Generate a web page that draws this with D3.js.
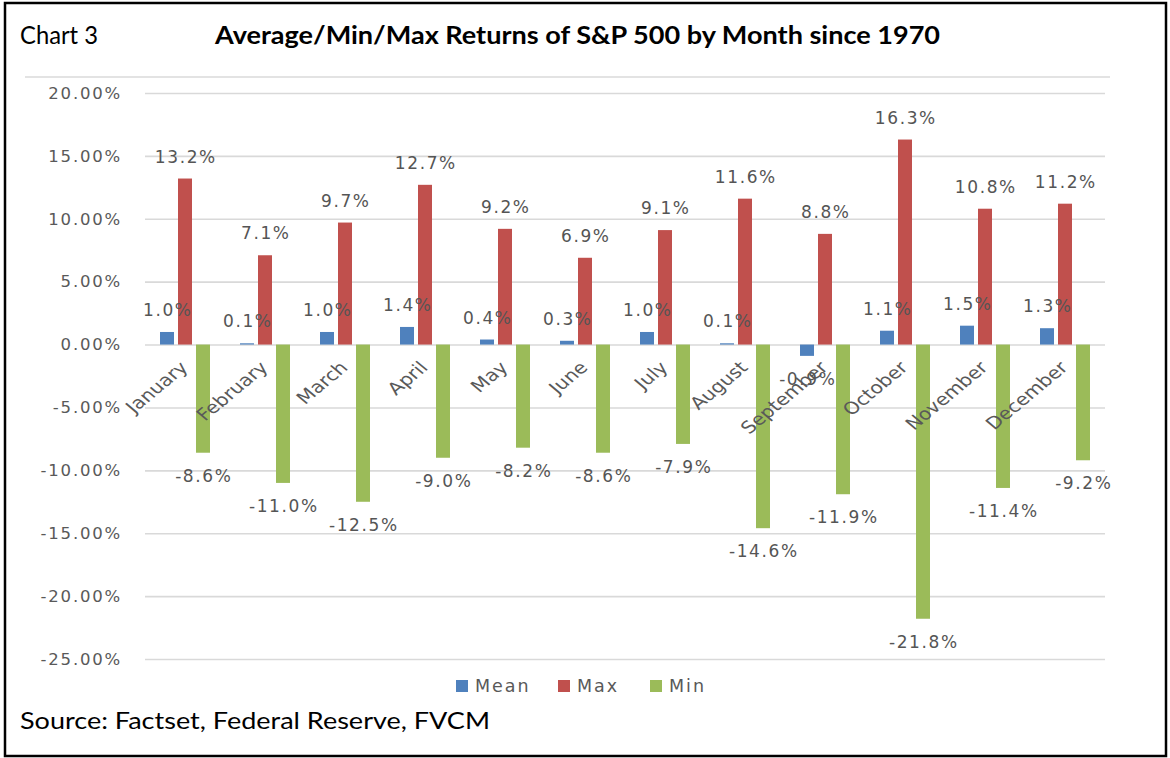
<!DOCTYPE html>
<html>
<head>
<meta charset="utf-8">
<script src="https://cdn.jsdelivr.net/npm/d3@7"></script>
<style>
  html, body { margin: 0; padding: 0; background: #fff; }
  svg { display: block; }
</style>
</head>
<body>
<svg id="chart" width="1170" height="758"></svg>
<script>
const months = ["January","February","March","April","May","June","July","August","September","October","November","December"];
const seriesNames = ["Mean","Max","Min"];
const meanValues = [1.0, 0.1, 1.0, 1.4, 0.4, 0.3, 1.0, 0.1, -0.9, 1.1, 1.5, 1.3];
const maxValues  = [13.2, 7.1, 9.7, 12.7, 9.2, 6.9, 9.1, 11.6, 8.8, 16.3, 10.8, 11.2];
const minValues  = [-8.6, -11.0, -12.5, -9.0, -8.2, -8.6, -7.9, -14.6, -11.9, -21.8, -11.4, -9.2];
const yTicks = [20, 15, 10, 5, 0, -5, -10, -15, -20, -25];
const seriesColors = ["#4F81BD", "#C0504D", "#9BBB59"];

const valuesBySeries = { Mean: meanValues, Max: maxValues, Min: minValues };

const svg = d3.select("#chart");
const W = 1170, H = 758;
const plot = { left: 145, right: 1105, top: 93, bottom: 659 };

// outer frame
svg.append("rect").attr("x", 5).attr("y", 3).attr("width", W - 9).attr("height", H - 5)
  .attr("fill", "none").attr("stroke", "#000").attr("stroke-width", 2.5);

// header
svg.append("text").attr("x", 20).attr("y", 44)
  .attr("font-family", "Lato, 'Open Sans', sans-serif").attr("font-size", 25)
  .attr("textLength", 78).attr("lengthAdjust", "spacingAndGlyphs")
  .attr("fill", "#000").text("Chart 3");
svg.append("text").attr("x", 215).attr("y", 44)
  .attr("font-family", "Lato, 'Open Sans', sans-serif").attr("font-size", 25).attr("font-weight", "bold")
  .attr("textLength", 725).attr("lengthAdjust", "spacingAndGlyphs")
  .attr("fill", "#000").text("Average/Min/Max Returns of S&P 500 by Month since 1970");

// chart area top border
svg.append("line").attr("x1", 25).attr("x2", 1110).attr("y1", 77).attr("y2", 77)
  .attr("stroke", "#e3e3e3").attr("stroke-width", 2);

const y = d3.scaleLinear().domain([-25, 20]).range([plot.bottom, plot.top]);
const x0 = d3.scaleBand().domain(months).range([plot.left, plot.right]).paddingInner(0).paddingOuter(0);
const x1 = d3.scaleBand().domain(seriesNames).range([-25, 25]).paddingInner(0.222).paddingOuter(0);
const hyphen = s => s.replace("\u2212", "-");
const fmtAxis = d => hyphen(d3.format(".2f")(d)) + "%";
const fmtLabel = d => hyphen(d3.format(".1f")(d)) + "%";

const labelFont = "'DejaVu Sans', Verdana, sans-serif";
const grey = "#595959";

// y axis with gridlines
const yAxis = svg.append("g").attr("transform", `translate(${plot.left},0)`)
  .call(d3.axisLeft(y).tickValues(yTicks).tickFormat(fmtAxis)
    .tickSize(-(plot.right - plot.left)).tickPadding(23));
yAxis.select(".domain").remove();
yAxis.selectAll(".tick line").attr("stroke", "#d9d9d9").attr("stroke-width", 1.6);
yAxis.selectAll(".tick text").attr("font-family", labelFont).attr("font-size", 16.5)
  .attr("letter-spacing", "1.8px").attr("fill", grey);

// bars
const groups = svg.append("g").selectAll("g").data(months).join("g")
  .attr("transform", d => `translate(${x0(d) + x0.bandwidth() / 2},0)`);

seriesNames.forEach((s, si) => {
  groups.append("rect")
    .attr("x", x1(s))
    .attr("width", x1.bandwidth())
    .attr("y", (m, i) => y(Math.max(0, valuesBySeries[s][i])))
    .attr("height", (m, i) => Math.abs(y(valuesBySeries[s][i]) - y(0)))
    .attr("fill", seriesColors[si]);
});

// category labels (rotated, stretched horizontally like the source)
const xAxis = svg.append("g").attr("transform", `translate(0,${y(0)})`)
  .call(d3.axisBottom(x0).tickSize(0).tickPadding(0));
xAxis.select(".domain").remove();
xAxis.selectAll(".tick text")
  .attr("font-family", labelFont).attr("font-size", 17)
  .attr("fill", grey)
  .attr("text-anchor", "end")
  .attr("y", 0).attr("dy", 0)
  .attr("transform", "translate(4,24) scale(1.2,1) rotate(-45)");

// data labels
seriesNames.forEach((s, si) => {
  groups.append("text")
    .attr("x", x1(s) + x1.bandwidth() / 2 + 0.8)
    .attr("y", (m, i) => {
      const v = valuesBySeries[s][i];
      return v >= 0 ? y(v) - 16 : y(v) + 29;
    })
    .attr("text-anchor", "middle")
    .attr("font-family", labelFont).attr("font-size", 17).attr("letter-spacing", "1.6px")
    .attr("fill", "#555")
    .text((m, i) => fmtLabel(valuesBySeries[s][i]));
});

// legend
const legendX = [456, 558, 650];
const legend = svg.append("g");
seriesNames.forEach((s, si) => {
  legend.append("rect").attr("x", legendX[si]).attr("y", 680).attr("width", 12).attr("height", 12)
    .attr("fill", seriesColors[si]);
  legend.append("text").attr("x", legendX[si] + 19).attr("y", 692)
    .attr("font-family", labelFont).attr("font-size", 17.5).attr("letter-spacing", "2px")
    .attr("fill", grey).text(s);
});

// source
svg.append("text").attr("x", 20).attr("y", 729)
  .attr("font-family", "Lato, 'Open Sans', sans-serif").attr("font-size", 23.5)
  .attr("textLength", 470).attr("lengthAdjust", "spacingAndGlyphs")
  .attr("fill", "#000").text("Source: Factset, Federal Reserve, FVCM");
</script>
</body>
</html>
